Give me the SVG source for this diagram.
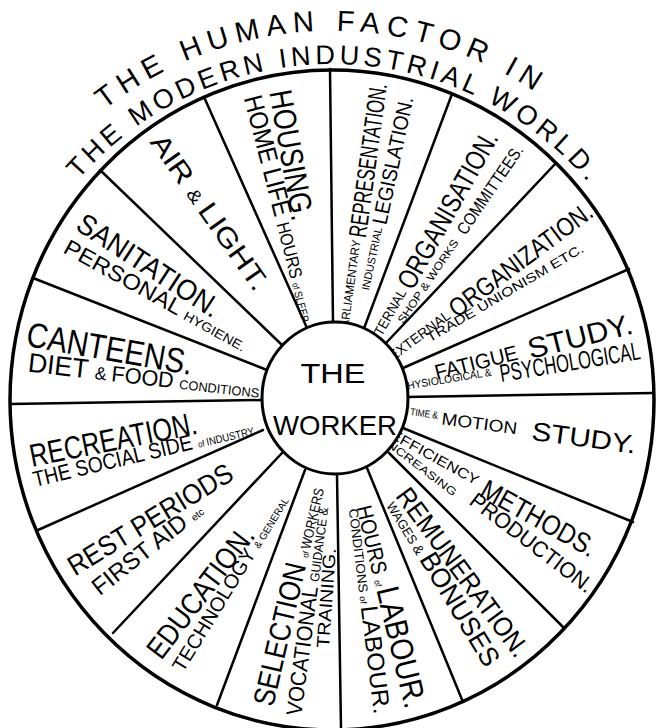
<svg xmlns="http://www.w3.org/2000/svg" width="656" height="728" viewBox="0 0 656 728">
<style>
.t{font-family:"Liberation Sans",Arial,sans-serif;fill:#000;}
.c{font-family:"Liberation Sans",Arial,sans-serif;fill:#000;dominant-baseline:central;}
.sp{stroke:#000;stroke-width:2.5;fill:none;stroke-linecap:round;}
.rim{stroke:#000;stroke-width:3.5;fill:none;}
</style>
<defs>
<path id="arc1" d="M71,139.4 A368,368 0 0 1 593,139.4"/>
<path id="arc2" d="M56.8,207.3 A336,336 0 0 1 607.2,207.3"/>
</defs>
<rect width="656" height="728" fill="#fff"/>
<g id="title">
<text class="t" font-size="29" letter-spacing="6.9"><textPath href="#arc1" startOffset="44.9">THE HUMAN FACTOR IN</textPath></text>
<text class="t" font-size="27" letter-spacing="4.2"><textPath href="#arc2" startOffset="35.2">THE MODERN INDUSTRIAL WORLD.</textPath></text>
</g>
<g id="segments" text-anchor="middle">
<g id="housing">
<g transform="translate(292 155) rotate(80)"><text class="t" y="11.5" font-size="32" textLength="132" lengthAdjust="spacingAndGlyphs">HOUSING.</text></g>
<g transform="translate(282 208) rotate(75.5)"><text class="t" y="9.4" font-size="26" textLength="232" lengthAdjust="spacingAndGlyphs">HOME LIFE <tspan font-size="18">HOURS </tspan><tspan font-size="9">of </tspan><tspan font-size="11">SLEEP</tspan></text></g>
</g>
<g id="air">
<g transform="translate(210 212) rotate(55)"><text class="t" y="9.7" font-size="27" textLength="184" lengthAdjust="spacingAndGlyphs">AIR <tspan font-size="18">&amp; </tspan>LIGHT.</text></g>
</g>
<g id="sanitation">
<g transform="translate(149 265) rotate(33)"><text class="t" y="10.4" font-size="29" textLength="165" lengthAdjust="spacingAndGlyphs">SANITATION.</text></g>
<g transform="translate(156 295) rotate(29)"><text class="t" y="7.9" font-size="22" textLength="206" lengthAdjust="spacingAndGlyphs">PERSONAL <tspan font-size="13">HYGIENE.</tspan></text></g>
</g>
<g id="canteens">
<g transform="translate(110 348) rotate(10)"><text class="t" y="12.6" font-size="35" textLength="168" lengthAdjust="spacingAndGlyphs">CANTEENS.</text></g>
<g transform="translate(144 375) rotate(6.5)"><text class="t" y="9.7" font-size="27" textLength="233" lengthAdjust="spacingAndGlyphs">DIET <tspan font-size="18">&amp; </tspan><tspan font-size="22">FOOD </tspan><tspan font-size="13">CONDITIONS</tspan></text></g>
</g>
<g id="recreation">
<g transform="translate(113 439) rotate(-11.3)"><text class="t" y="11.5" font-size="32" textLength="170" lengthAdjust="spacingAndGlyphs">RECREATION.</text></g>
<g transform="translate(143 453) rotate(-13.4)"><text class="t" y="7.9" font-size="22" textLength="226" lengthAdjust="spacingAndGlyphs">THE SOCIAL SIDE <tspan font-size="9">of </tspan><tspan font-size="11">INDUSTRY</tspan></text></g>
</g>
<g id="rest">
<g transform="translate(150 519) rotate(-31.3)"><text class="t" y="10" font-size="28" textLength="188" lengthAdjust="spacingAndGlyphs">REST PERIODS</text></g>
<g transform="translate(147 548) rotate(-38.3)"><text class="t" y="8.6" font-size="24" textLength="134" lengthAdjust="spacingAndGlyphs">FIRST AID <tspan font-size="10">etc</tspan></text></g>
</g>
<g id="education">
<g transform="translate(200 592) rotate(-52.8)"><text class="t" y="10.8" font-size="30" textLength="157" lengthAdjust="spacingAndGlyphs">EDUCATION.</text></g>
<g transform="translate(230 583) rotate(-58.5)"><text class="t" y="7.2" font-size="20" textLength="203" lengthAdjust="spacingAndGlyphs">TECHNOLOGY <tspan font-size="10">&amp; GENERAL</tspan></text></g>
</g>
<g id="selection">
<g transform="translate(288 596) rotate(-76.8)"><text class="t" y="10.8" font-size="30" textLength="224" lengthAdjust="spacingAndGlyphs">SELECTION <tspan font-size="9">of </tspan><tspan font-size="14">WORKERS</tspan></text></g>
<g transform="translate(307 611) rotate(-82.6)"><text class="t" y="7.9" font-size="22" textLength="210" lengthAdjust="spacingAndGlyphs">VOCATIONAL <tspan font-size="13">GUIDANCE &amp;</tspan></text></g>
<g transform="translate(326 598) rotate(-86)"><text class="t" y="6.5" font-size="18" textLength="100" lengthAdjust="spacingAndGlyphs">TRAINING.</text></g>
</g>
<g id="hours">
<g transform="translate(392 606) rotate(76.4)"><text class="t" y="11.5" font-size="32" textLength="208" lengthAdjust="spacingAndGlyphs"><tspan font-size="22">HOURS </tspan><tspan font-size="9">of </tspan>LABOUR.</text></g>
<g transform="translate(370 611) rotate(83)"><text class="t" y="8.6" font-size="24" textLength="207" lengthAdjust="spacingAndGlyphs"><tspan font-size="13">CONDITIONS </tspan><tspan font-size="9">of </tspan>LABOUR.</text></g>
</g>
<g id="remuneration">
<g transform="translate(463 572) rotate(53.4)"><text class="t" y="9.7" font-size="27" textLength="203" lengthAdjust="spacingAndGlyphs">REMUNERATION.</text></g>
<g transform="translate(444 582) rotate(58.7)"><text class="t" y="9.7" font-size="27" textLength="191" lengthAdjust="spacingAndGlyphs"><tspan font-size="13">WAGES </tspan><tspan font-size="14">&amp; </tspan>BONUSES</text></g>
</g>
<g id="efficiency" text-anchor="start">
<g transform="translate(398 440) rotate(29.1)">
<text class="c" x="-9" y="-3" font-size="14" textLength="99" lengthAdjust="spacingAndGlyphs">EFFICIENCY</text>
<text class="c" x="97" font-size="28" textLength="128" lengthAdjust="spacingAndGlyphs">METHODS.</text>
</g>
<g transform="translate(393 437) rotate(37.3)">
<text class="c" x="-4" y="7" font-size="11" textLength="88" lengthAdjust="spacingAndGlyphs">INCREASING</text>
<text class="c" x="100" font-size="22" textLength="149" lengthAdjust="spacingAndGlyphs">PRODUCTION.</text>
</g>
</g>
<g id="motion" text-anchor="start">
<g transform="translate(406 414) rotate(7.6)">
<text class="c" x="4" y="-3" font-size="10" textLength="28" lengthAdjust="spacingAndGlyphs">TIME &amp;</text>
<text class="c" x="36" font-size="17" textLength="76" lengthAdjust="spacingAndGlyphs">MOTION</text>
<text class="c" x="127" font-size="26" textLength="105" lengthAdjust="spacingAndGlyphs">STUDY.</text>
</g>
</g>
<g id="fatigue" text-anchor="start">
<g transform="translate(432 373.3) rotate(-14)">
<text class="c" x="3" font-size="21" textLength="85" lengthAdjust="spacingAndGlyphs">FATIGUE</text>
<text class="c" x="99" font-size="29" textLength="107" lengthAdjust="spacingAndGlyphs">STUDY.</text>
</g>
<g transform="translate(405 388.9) rotate(-9.4)">
<text class="c" x="-4" y="-3" font-size="11" textLength="92" lengthAdjust="spacingAndGlyphs">PHYSIOLOGICAL &amp;</text>
<text class="c" x="96" font-size="25" textLength="142" lengthAdjust="spacingAndGlyphs">PSYCHOLOGICAL</text>
</g>
</g>
<g id="external" text-anchor="start">
<g transform="translate(390 357.2) rotate(-36.7)">
<text class="c" x="0" font-size="14" textLength="73" lengthAdjust="spacingAndGlyphs">EXTERNAL</text>
<text class="c" x="77" font-size="26" textLength="172" lengthAdjust="spacingAndGlyphs">ORGANIZATION.</text>
</g>
<g transform="translate(505 293) rotate(-30.5)"><text class="c" x="0" font-size="13" textLength="180" lengthAdjust="spacingAndGlyphs" text-anchor="middle">TRADE UNIONISM ETC.</text></g>
</g>
<g id="internal" text-anchor="start">
<g transform="translate(372 344) rotate(-60.6)">
<text class="c" x="-2" font-size="14" textLength="64" lengthAdjust="spacingAndGlyphs">INTERNAL</text>
<text class="c" x="66" font-size="28" textLength="176" lengthAdjust="spacingAndGlyphs">ORGANISATION.</text>
</g>
<g transform="translate(400 322) rotate(-55.7)">
<text class="c" x="0" font-size="11" textLength="99" lengthAdjust="spacingAndGlyphs">SHOP &amp; WORKS</text>
<text class="c" x="108" font-size="17" textLength="104" lengthAdjust="spacingAndGlyphs">COMMITTEES.</text>
</g>
</g>
<g id="representation" text-anchor="start">
<g transform="translate(344 330) rotate(-82.1)">
<text class="c" x="-4" font-size="12" textLength="95" lengthAdjust="spacingAndGlyphs">PARLIAMENTARY</text>
<text class="c" x="94" font-size="25" textLength="155" lengthAdjust="spacingAndGlyphs">REPRESENTATION.</text>
</g>
<g transform="translate(365 290) rotate(-78)">
<text class="c" x="0" font-size="11" textLength="64" lengthAdjust="spacingAndGlyphs">INDUSTRIAL</text>
<text class="c" x="67.5" font-size="21" textLength="130" lengthAdjust="spacingAndGlyphs">LEGISLATION.</text>
</g>
</g>
</g>
<g id="connectors">
<line class="sp" x1="307" y1="328" x2="204" y2="97"/>
<line class="sp" x1="333" y1="323" x2="330" y2="69"/>
<line class="sp" x1="363" y1="331" x2="452" y2="94"/>
<line class="sp" x1="386" y1="343" x2="556" y2="163"/>
<line class="sp" x1="403" y1="368" x2="629" y2="269"/>
<line class="sp" x1="406" y1="397" x2="654" y2="393"/>
<line class="sp" x1="403" y1="428" x2="633" y2="522"/>
<line class="sp" x1="389" y1="453" x2="564" y2="628"/>
<line class="sp" x1="367" y1="468" x2="463" y2="702"/>
<line class="sp" x1="337" y1="475" x2="341" y2="728"/>
<line class="sp" x1="305" y1="470" x2="217" y2="705"/>
<line class="sp" x1="282" y1="453" x2="113" y2="633"/>
<line class="sp" x1="263" y1="430" x2="38" y2="530"/>
<line class="sp" x1="262" y1="400" x2="10" y2="404"/>
<line class="sp" x1="267" y1="370" x2="33" y2="278"/>
<line class="sp" x1="282" y1="345" x2="100" y2="170"/>
</g>
<g id="wheel">
<ellipse class="rim" cx="332" cy="400" rx="322" ry="330"/>
</g>
<g id="worker">
<ellipse cx="335" cy="398" rx="73" ry="76" fill="#fff" stroke="#000" stroke-width="3"/>
<text class="t" x="333" y="383" font-size="28" text-anchor="middle" textLength="65" lengthAdjust="spacingAndGlyphs">THE</text>
<text class="t" x="335" y="435" font-size="28" text-anchor="middle" textLength="124" lengthAdjust="spacingAndGlyphs">WORKER</text>
</g>
</svg>
